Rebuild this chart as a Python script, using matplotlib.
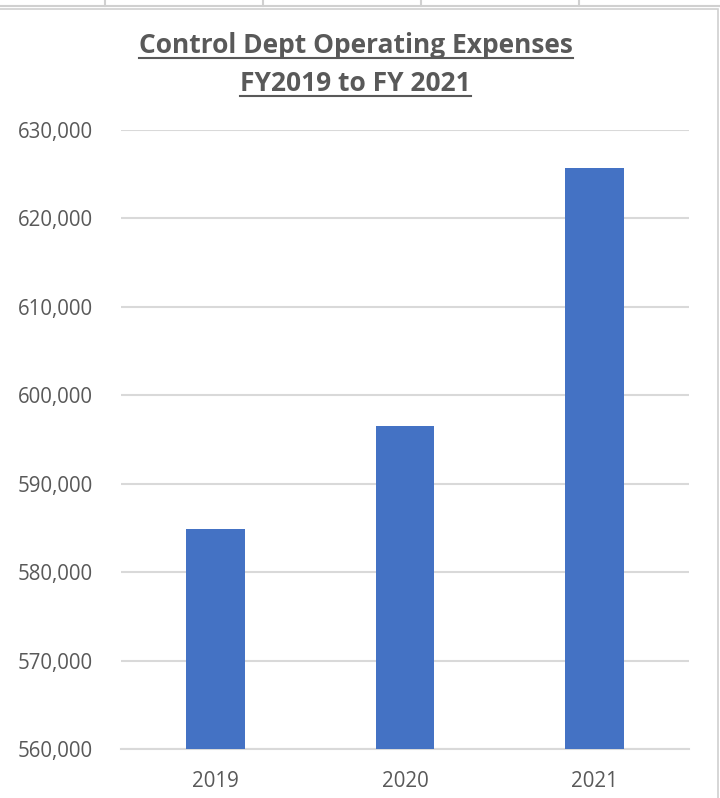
import matplotlib.pyplot as plt
from matplotlib.ticker import FuncFormatter
from matplotlib.lines import Line2D
from matplotlib.patches import Rectangle

# data
years = ["2019", "2020", "2021"]
expenses = [584900, 596500, 625700]
y_ticks = [560000, 570000, 580000, 590000, 600000, 610000, 620000, 630000]
title_lines = ["Control Dept Operating Expenses", "FY2019 to FY 2021"]

bar_color = "#4472c4"
text_color = "#595959"
grid_color = "#d9d9d9"

plt.rcParams['font.family'] = ['Open Sans', 'DejaVu Sans']

fig = plt.figure(figsize=(7.2, 7.98), dpi=100)
fig.patch.set_facecolor("white")

# spreadsheet cells peeking above the chart
for x in [0.146, 0.365, 0.585, 0.804]:
    fig.add_artist(Line2D([x, x], [0.992, 1.0], color="#d0d0d0", lw=1.5))
fig.add_artist(Line2D([0, 1], [0.993, 0.993], color="#d0d0d0", lw=1.5))
# chart frame
fig.add_artist(Rectangle((-0.01, -0.01), 1.007, 0.999, fill=False,
                         edgecolor="#d0d0d0", lw=1.2))

ax = fig.add_axes([0.168, 0.0614, 0.789, 0.7756])
ax.bar(years, expenses, width=0.31, color=bar_color, zorder=3)
ax.set_ylim(y_ticks[0], y_ticks[-1])
ax.set_xlim(-0.5, 2.5)
ax.set_yticks(y_ticks)
ax.yaxis.set_major_formatter(FuncFormatter(lambda v, p: f"{int(v):,}"))
ax.grid(axis="y", color=grid_color, lw=1.5, zorder=0)
for s in ["top", "right", "left"]:
    ax.spines[s].set_visible(False)
ax.spines["bottom"].set_color(grid_color)
ax.spines["bottom"].set_linewidth(1.5)
ax.tick_params(axis="both", length=0, labelsize=14.8, colors=text_color)
ax.tick_params(axis="y", pad=20)
ax.tick_params(axis="x", pad=16)

# title, bold and underlined
renderer = fig.canvas.get_renderer()
baselines = [0.9336, 0.886]
for line, yb in zip(title_lines, baselines):
    t = fig.text(0.494, yb, line, ha="center", va="baseline",
                 fontsize=19, fontweight="bold", color=text_color)
    bb = t.get_window_extent(renderer).transformed(fig.transFigure.inverted())
    uy = yb - 0.0065
    fig.add_artist(Line2D([bb.x0, bb.x1], [uy, uy], color=text_color, lw=1.5))

fig.savefig("out.png", dpi=100)
